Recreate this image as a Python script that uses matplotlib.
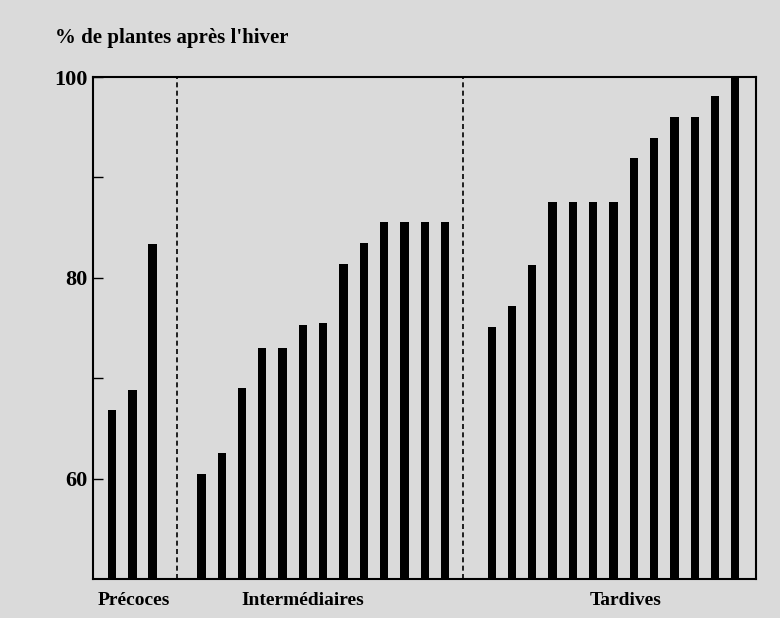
import numpy as np
import matplotlib.pyplot as plt

# Valeurs (% de plantes après l'hiver)
precoces = [66.9, 68.8, 83.4]
intermediaires = [60.5, 62.6, 69.0, 73.0, 73.0, 75.3, 75.5, 81.4, 83.5,
                  85.6, 85.6, 85.6, 85.6]
tardives = [75.1, 77.2, 81.3, 87.6, 87.6, 87.6, 87.6, 91.9, 93.9, 96.0,
            96.0, 98.1, 100.0]
group_names = ['Précoces', 'Intermédiaires', 'Tardives']
yticks = [60, 80, 100]
yminor = [70, 90]

# layout: position of first bar of each group, in bar units
starts = [0, 4.4, 18.7]
separators = [3.2, 17.3]
label_x = [1.05, 9.4, 25.3]

plt.rcParams['font.family'] = ['Liberation Serif', 'DejaVu Serif']
plt.rcParams['font.weight'] = 'bold'

bg = '#dadada'
fig = plt.figure(figsize=(7.8, 6.18), dpi=100, facecolor=bg)
ax = fig.add_axes([0.1192, 0.0626, 0.85, 0.8128], facecolor=bg)

for start, vals in zip(starts, [precoces, intermediaires, tardives]):
    x = start + np.arange(len(vals))
    ax.bar(x, vals, width=0.41, color='black', bottom=0)

for s in separators:
    ax.axvline(s, color='black', lw=1.2, ls=(0, (3, 2)))

ax.set_ylim(50, 100)
ax.set_xlim(-0.94, 31.72)
ax.set_yticks(yticks)
ax.set_yticks(yminor, minor=True)
ax.set_yticklabels([str(t) for t in yticks], fontsize=16, fontweight='bold')
ax.tick_params(axis='y', which='both', direction='in', length=7, width=1, pad=4)
ax.set_xticks([])
for sp in ax.spines.values():
    sp.set_linewidth(1.5)

for name, lx in zip(group_names, label_x):
    ax.text(lx, -0.043, name, transform=ax.get_xaxis_transform(),
            ha='center', va='center', fontsize=14, fontweight='bold')

fig.text(55 / 780, 1 - 38 / 618, "% de plantes après l'hiver",
         ha='left', va='center', fontsize=15, fontweight='bold')

fig.savefig('out.png', dpi=100, facecolor=bg)
